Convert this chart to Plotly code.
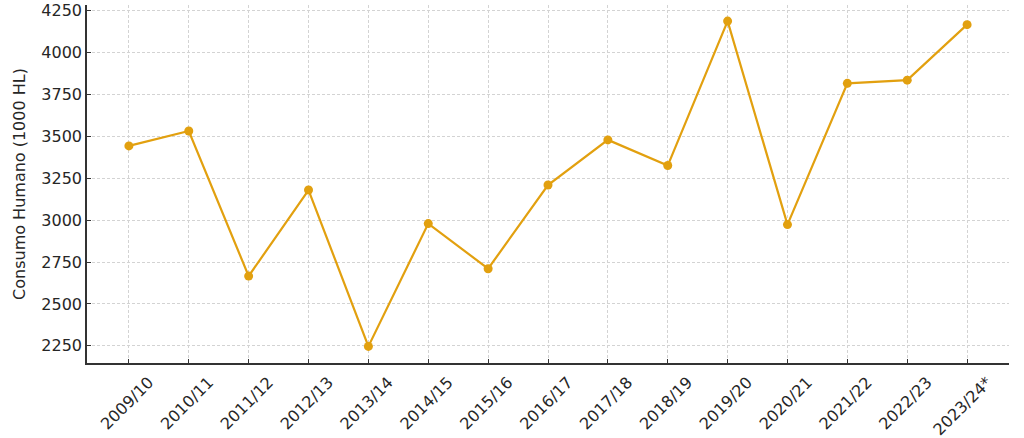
import plotly.graph_objects as go

seasons = ["2009/10", "2010/11", "2011/12", "2012/13", "2013/14", "2014/15", "2015/16",
           "2016/17", "2017/18", "2018/19", "2019/20", "2020/21", "2021/22", "2022/23", "2023/24*"]
consumo = [3442, 3531, 2666, 3179, 2247, 2979, 2710, 3209, 3478, 3325, 4186, 2973, 3815, 3834, 4165]
y_ticks = [2250, 2500, 2750, 3000, 3250, 3500, 3750, 4000, 4250]

color = "#E2A00F"
font = dict(family="DejaVu Sans", size=16, color="#262626")

fig = go.Figure()
fig.add_trace(go.Scatter(
    x=list(range(len(seasons))), y=consumo, mode="lines+markers",
    line=dict(color=color, width=2.2),
    marker=dict(color=color, size=9),
    showlegend=False,
))

fig.update_layout(
    width=1024, height=438,
    margin=dict(l=87, r=15, t=5, b=75, autoexpand=False),
    paper_bgcolor="white", plot_bgcolor="white",
    font=font,
)
fig.update_xaxes(
    tickmode="array", tickvals=list(range(len(seasons))), ticktext=seasons,
    range=[-0.7, 14.7], tickangle=-45, ticklabelshift=20, ticklabelstandoff=2,
    showline=True, linecolor="#333333", linewidth=1.5, mirror=False,
    ticks="inside", ticklen=4, tickcolor="#333333",
    showgrid=True, gridcolor="#d3d3d3", gridwidth=0.8, griddash="3px,2px",
    zeroline=False, tickfont=font, automargin=False,
)
fig.update_yaxes(
    tickmode="array", tickvals=y_ticks,
    range=[2148, 4282],
    title=dict(text="Consumo Humano (1000 HL)", font=font, standoff=12),
    showline=True, linecolor="#333333", linewidth=1.5, mirror=False,
    ticks="inside", ticklen=4, tickcolor="#333333",
    showgrid=True, gridcolor="#d3d3d3", gridwidth=0.8, griddash="3px,2px",
    zeroline=False, tickfont=font, automargin=False,
)

fig.write_html(
    "out.html",
    config={"displayModeBar": False},
    post_script="document.body.style.margin='0';document.body.style.overflow='hidden';",
)
